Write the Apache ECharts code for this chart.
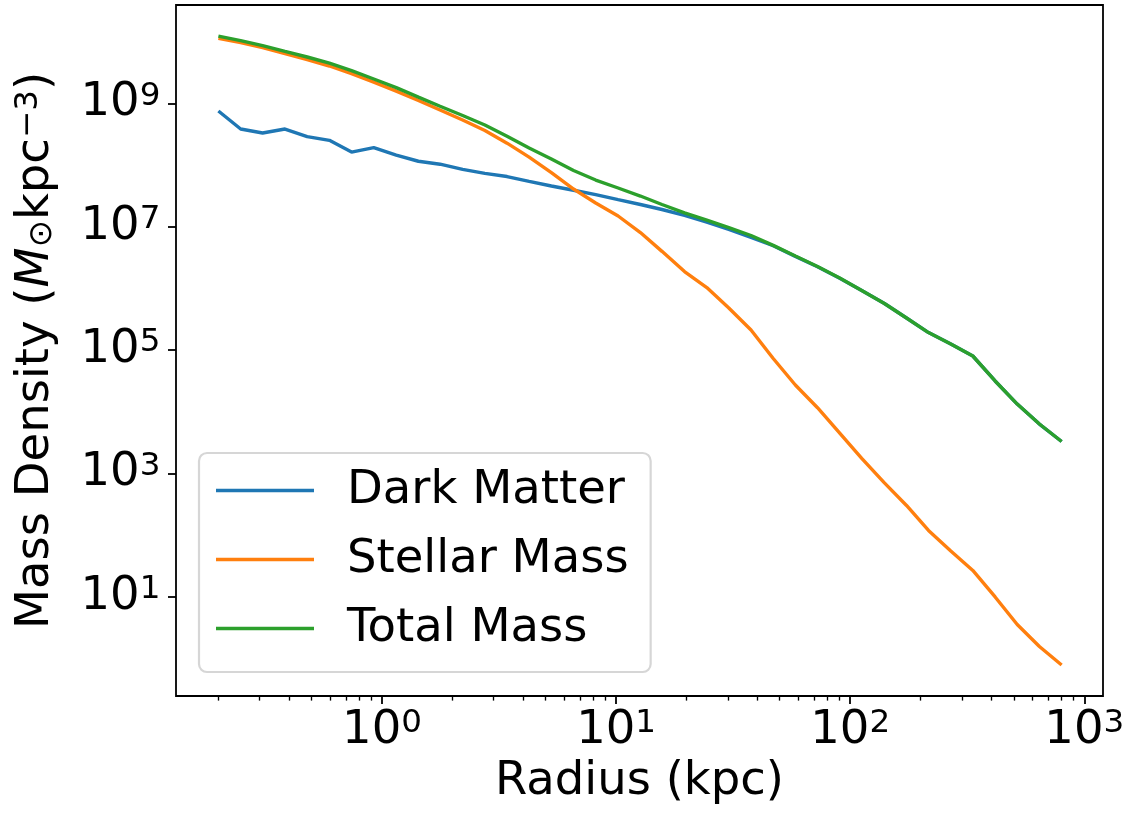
<!DOCTYPE html>
<html><head><meta charset="utf-8">
<script src="https://cdn.jsdelivr.net/npm/echarts@6/dist/echarts.min.js"></script>
<style>html,body{margin:0;padding:0;background:#fff}#c{width:1131px;height:819px}</style>
</head><body><div id="c"></div>
<script>
// ---- data ----
const radius = [0.2, 0.249, 0.309, 0.385, 0.479, 0.596, 0.741, 0.922, 1.15, 1.43,
  1.77, 2.21, 2.75, 3.42, 4.25, 5.29, 6.58, 8.18, 10.2, 12.7,
  15.7, 19.6, 24.4, 30.3, 37.7, 46.9, 58.3, 72.5, 90.2, 112,
  140, 174, 216, 269, 334, 416, 517, 643, 800];
const darkMatter = [7.5e8, 3.83e8, 3.3e8, 3.83e8, 2.88e8, 2.51e8, 1.62e8, 1.91e8, 1.45e8, 1.15e8,
  1.03e8, 8.51e7, 7.33e7, 6.5e7, 5.43e7, 4.56e7, 3.9e7, 3.3e7, 2.74e7, 2.29e7,
  1.9e7, 1.52e7, 1.19e7, 9.0e6, 6.67e6, 4.9e6, 3.3e6, 2.24e6, 1.46e6, 9.2e5,
  5.67e5, 3.3e5, 1.92e5, 1.25e5, 8.0e4, 3.15e4, 1.33e4, 6.3e3, 3.29e3];
const stellarMass = [1.13e10, 9.66e9, 8.04e9, 6.41e9, 5.13e9, 4.03e9, 3.04e9, 2.21e9, 1.58e9, 1.11e9,
  7.78e8, 5.36e8, 3.62e8, 2.26e8, 1.34e8, 7.55e7, 4.08e7, 2.42e7, 1.49e7, 8.04e6,
  3.98e6, 1.87e6, 1.03e6, 4.81e5, 2.11e5, 7.29e4, 2.71e4, 1.16e4, 4.51e3, 1.75e3,
  700, 302, 119, 55.2, 26.7, 9.91, 3.55, 1.56, 0.78];
const totalMass = [1.233e10, 1.042e10, 8.65e9, 6.97e9, 5.64e9, 4.47e9, 3.4e9, 2.48e9, 1.8e9, 1.26e9,
  8.97e8, 6.34e8, 4.45e8, 2.92e8, 1.88e8, 1.25e8, 8.13e7, 5.7e7, 4.24e7, 3.14e7,
  2.29e7, 1.68e7, 1.28e7, 9.68e6, 7.19e6, 4.97e6, 3.34e6, 2.26e6, 1.47e6, 9.23e5,
  5.68e5, 3.3e5, 1.92e5, 1.25e5, 8.0e4, 3.15e4, 1.33e4, 6.31e3, 3.29e3];
const seriesNames = ['Dark Matter', 'Stellar Mass', 'Total Mass'];
const seriesColors = ['#1f77b4', '#ff7f0e', '#2ca02c'];
const xMajorTicks = [1, 10, 100, 1000];
const xMinorTicks = [0.2, 0.3, 0.4, 0.5, 0.6, 0.7, 0.8, 0.9,
  2, 3, 4, 5, 6, 7, 8, 9, 20, 30, 40, 50, 60, 70, 80, 90,
  200, 300, 400, 500, 600, 700, 800, 900];
const yMajorTicks = [10, 1e3, 1e5, 1e7, 1e9];
const xTitle = 'Radius (kpc)';

// ---- styling ----
const FF = 'DejaVu Sans';
const FS = 46.5;
const xMin = 0.1318, xMax = 1202;
const yMin = 0.2455, yMax = 3.93e10;
const richTick = {
  b: { fontSize: FS, fontFamily: FF, color: '#000', lineHeight: 47 },
  s: { fontSize: FS * 0.7, fontFamily: FF, color: '#000', lineHeight: 27, verticalAlign: 'top' }
};
function powLabel(v) {
  const e = Math.round(Math.log10(v));
  return '{b|10}{s|' + e + '}';
}
function pairs(ys) { return radius.map((r, i) => [r, ys[i]]); }

const chart = echarts.init(document.getElementById('c'), null, { renderer: 'canvas' });
chart.setOption({
  animation: false,
  backgroundColor: '#fff',
  grid: { left: 176, right: 28, top: 5, bottom: 123, show: true, borderColor: '#000', borderWidth: 1.8,
          backgroundColor: 'transparent', containLabel: false, outerBoundsMode: 'none' },
  legend: {
    left: 199, top: 453, orient: 'vertical',
    data: seriesNames,
    itemWidth: 98, itemHeight: 14, itemGap: 22,
    padding: [14, 22, 20, 17],
    backgroundColor: 'rgba(255,255,255,0.8)', borderColor: '#d6d6d6', borderWidth: 2.2, borderRadius: 8,
    textStyle: { fontFamily: FF, fontSize: FS, color: '#000', padding: [0, 0, 0, 28] },
    icon: 'path://M0,0 L100,0 L100,3.4 L0,3.4 Z'
  },
  xAxis: [{
    type: 'log', logBase: 10, min: xMin, max: xMax,
    name: xTitle, nameLocation: 'middle', nameGap: 50,
    nameTextStyle: { fontFamily: FF, fontSize: FS, color: '#000' },
    axisLine: { show: false },
    axisTick: { show: true, inside: false, length: 8, lineStyle: { color: '#000', width: 1.8 }, customValues: xMajorTicks },
    axisLabel: { show: true, margin: 11, formatter: powLabel, rich: richTick, customValues: xMajorTicks },
    splitLine: { show: false }, minorTick: { show: false }
  }, {
    type: 'log', logBase: 10, min: xMin, max: xMax, position: 'bottom',
    axisLine: { show: false },
    axisTick: { show: true, inside: false, length: 4.6, lineStyle: { color: '#000', width: 1.35 }, customValues: xMinorTicks },
    axisLabel: { show: false },
    splitLine: { show: false }
  }],
  yAxis: {
    type: 'log', logBase: 10, min: yMin, max: yMax,
    name: '{n|Mass Density (}{it|M}{sub|⊙}{n|kpc}{sup|−3}{n|)}',
    nameLocation: 'middle', nameGap: 117,
    nameTextStyle: {
      rich: {
        n: { fontSize: FS, fontFamily: FF, color: '#000', lineHeight: 47 },
        it: { fontSize: FS, fontFamily: FF, fontStyle: 'italic', color: '#000', lineHeight: 47 },
        sub: { fontSize: FS * 0.7, fontFamily: FF, color: '#000', lineHeight: 19, verticalAlign: 'bottom' },
        sup: { fontSize: FS * 0.7, fontFamily: FF, color: '#000', lineHeight: 27, verticalAlign: 'top' }
      }
    },
    axisLine: { show: false },
    axisTick: { show: true, inside: false, length: 8, lineStyle: { color: '#000', width: 1.8 }, customValues: yMajorTicks },
    axisLabel: { show: true, margin: 15.6, formatter: powLabel, rich: richTick, customValues: yMajorTicks },
    splitLine: { show: false }, minorTick: { show: false }
  },
  series: [darkMatter, stellarMass, totalMass].map((ys, k) => ({
    name: seriesNames[k], type: 'line', xAxisIndex: 0, yAxisIndex: 0,
    data: pairs(ys), showSymbol: false, symbol: 'none',
    lineStyle: { color: seriesColors[k], width: 3.4 }, itemStyle: { color: seriesColors[k] },
    z: 2 + k
  }))
});
</script></body></html>
